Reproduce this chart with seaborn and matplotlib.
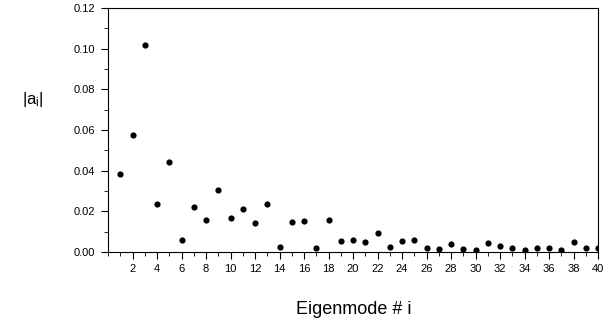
import matplotlib
matplotlib.use("Agg")
import matplotlib.pyplot as plt
from matplotlib.ticker import MultipleLocator, FormatStrFormatter
import seaborn as sns
import pandas as pd

modes = list(range(1, 41))
amplitudes = [0.0384, 0.0575, 0.1020, 0.0236, 0.0443, 0.0060, 0.0220, 0.0158,
              0.0305, 0.0168, 0.0210, 0.0143, 0.0234, 0.0024, 0.0148, 0.0151,
              0.0021, 0.0157, 0.0055, 0.0058, 0.0050, 0.0093, 0.0024, 0.0055,
              0.0058, 0.0020, 0.0015, 0.0040, 0.0015, 0.0012, 0.0045, 0.0030,
              0.0020, 0.0010, 0.0022, 0.0022, 0.0008, 0.0050, 0.0018, 0.0018]

df = pd.DataFrame({"mode": modes, "amp": amplitudes})

sns.set_style("ticks", {"axes.edgecolor": "black", "text.color": "black",
                        "xtick.color": "black", "ytick.color": "black"})
plt.rcParams['font.family'] = ['Liberation Sans', 'DejaVu Sans']

fig = plt.figure(figsize=(6.04, 3.29), dpi=100)
ax = fig.add_axes([108/604, 1-252/329, (598-108)/604, (252-8)/329])
sns.scatterplot(data=df, x="mode", y="amp", ax=ax, color="black", s=20,
                edgecolor="black", linewidth=0, legend=False)
ax.set_xlim(0, 40)
ax.set_ylim(0, 0.12)
ax.xaxis.set_major_locator(MultipleLocator(2))
ax.xaxis.set_minor_locator(MultipleLocator(1))
ax.yaxis.set_major_locator(MultipleLocator(0.02))
ax.yaxis.set_minor_locator(MultipleLocator(0.01))
ax.yaxis.set_major_formatter(FormatStrFormatter('%.2f'))
ax.set_xticks([t for t in range(2, 41, 2)])
ax.tick_params(axis='both', which='major', labelsize=8, length=5, width=0.8,
               direction='out', pad=4, colors='black')
ax.tick_params(axis='both', which='minor', length=3, width=0.6, direction='out',
               colors='black')
for sp in ax.spines.values():
    sp.set_linewidth(0.8)
    sp.set_color('black')
    sp.set_visible(True)
ax.set_xlabel("")
ax.set_ylabel("")
fig.text(354/604, 1-310/329, "Eigenmode # i", fontsize=13, ha='center', va='center',
         color='black')
fig.text(22/604, 1-100/329, r"$\mathregular{|a_i|}$", fontsize=12, ha='left', va='center',
         color='black')
fig.savefig("out.png", dpi=100)
